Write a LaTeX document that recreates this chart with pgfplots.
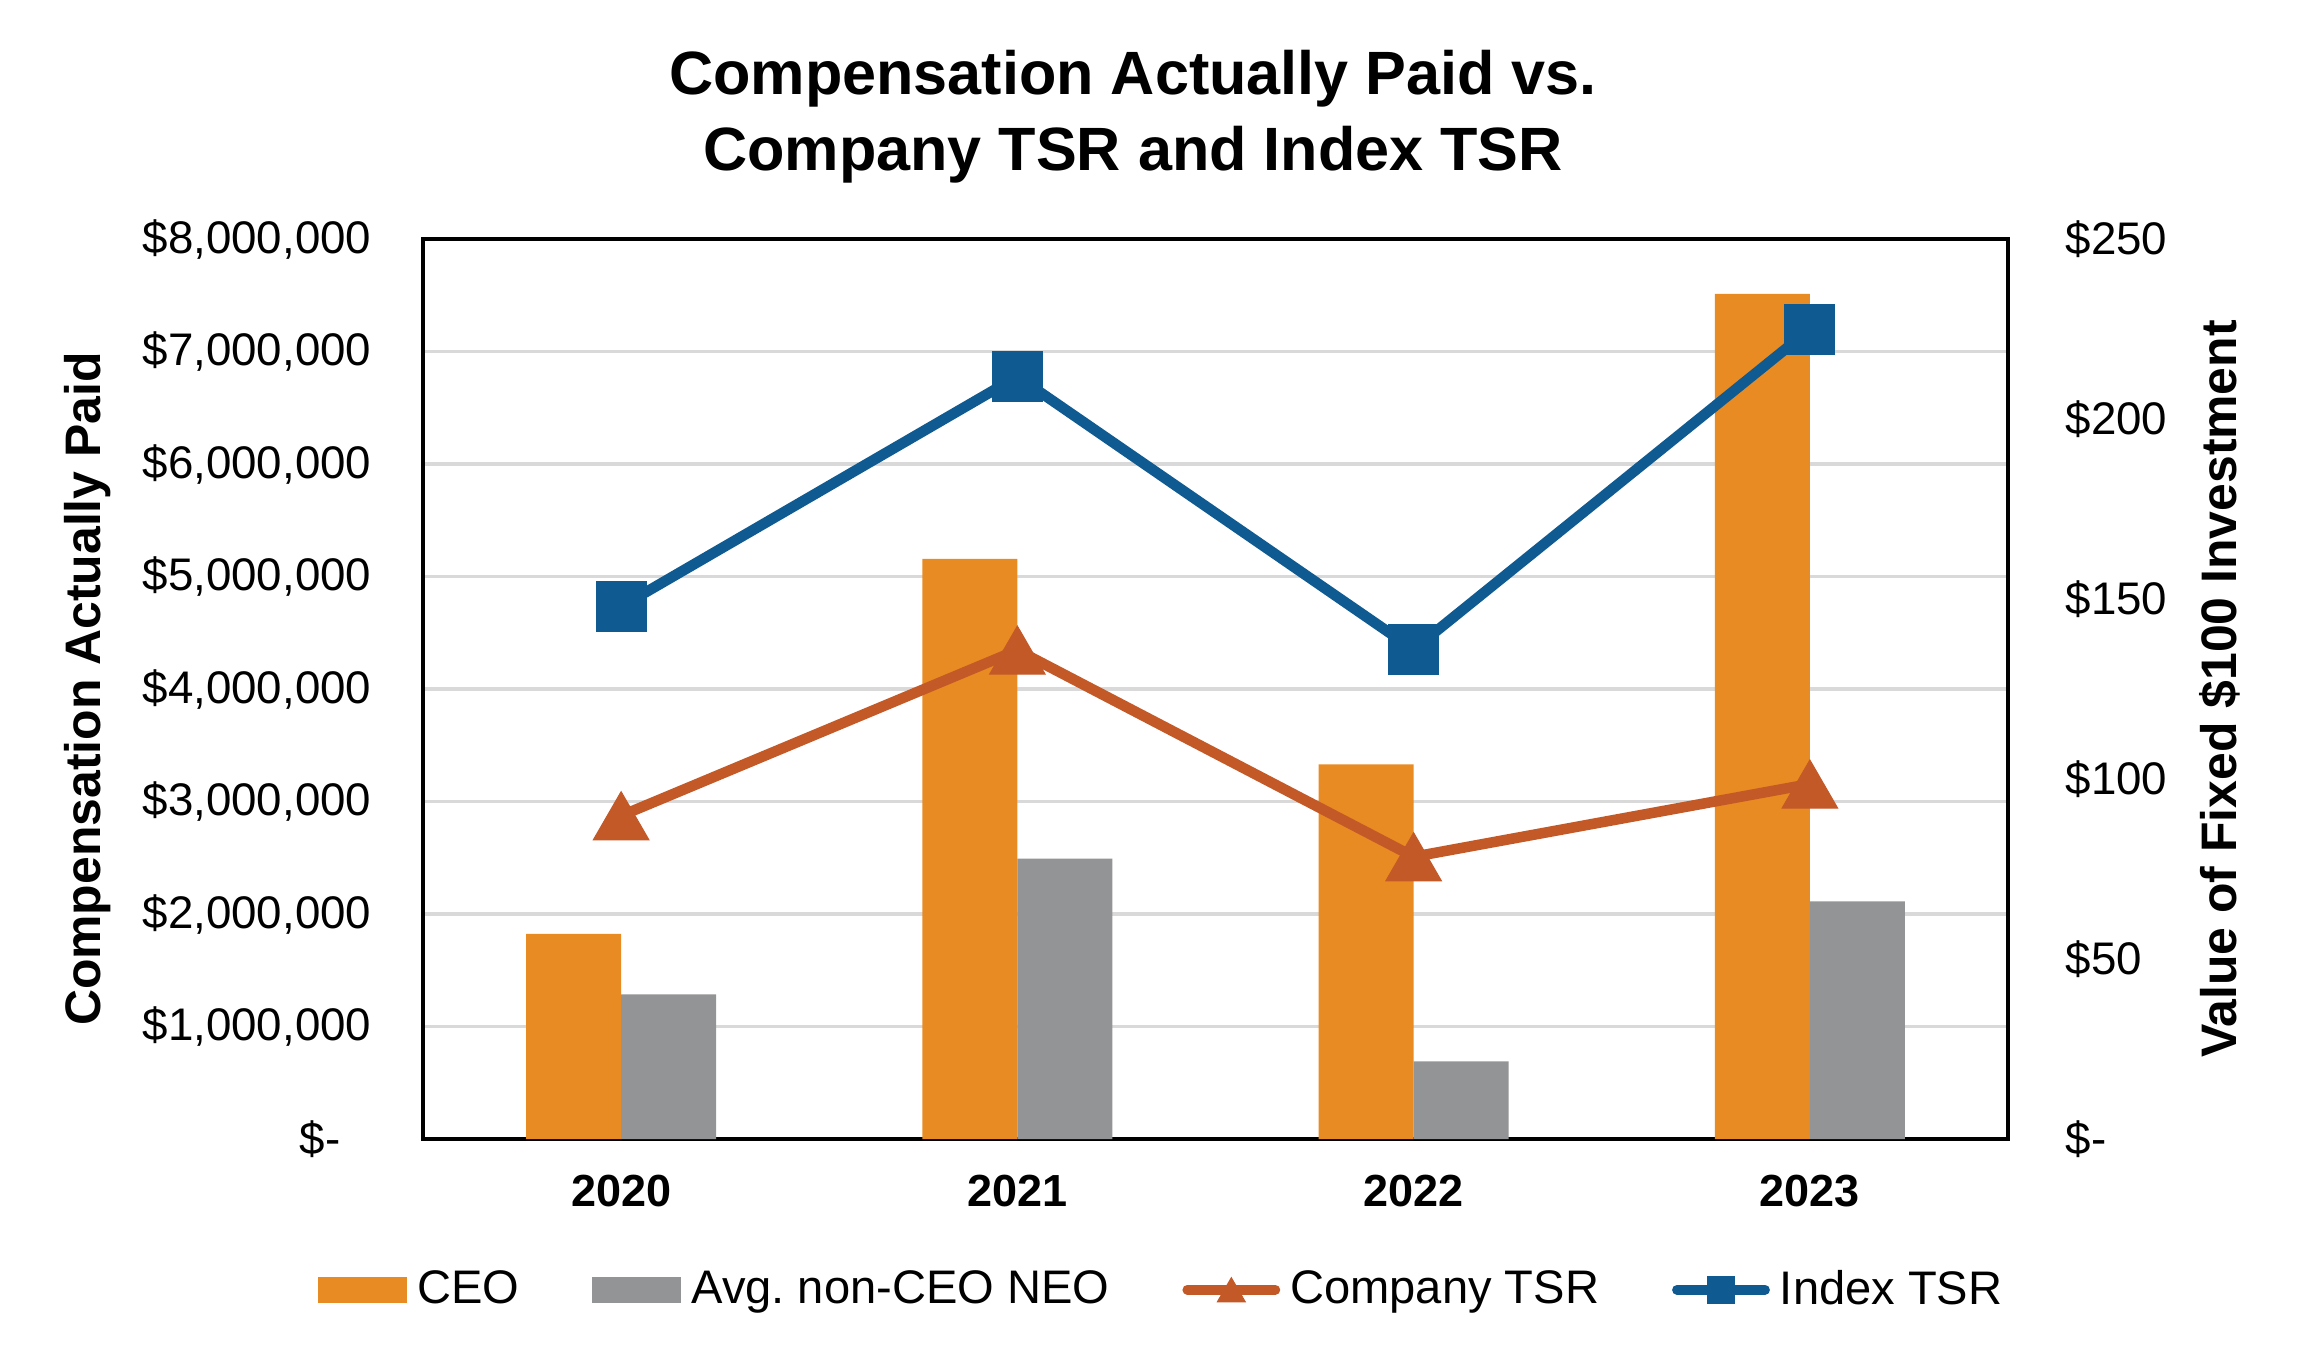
\documentclass[border=0pt]{standalone}
\usepackage{fontspec}
\setmainfont{Liberation Sans}
\usepackage{pgfplots}
\pgfplotsset{compat=1.18}

\definecolor{ceoc}{RGB}{232,139,35}
\definecolor{neoc}{RGB}{147,148,149}
\definecolor{compc}{RGB}{196,89,40}
\definecolor{idxc}{RGB}{16,90,146}
\definecolor{gridc}{RGB}{217,217,217}

\begin{document}
\frenchspacing
\begin{tikzpicture}
\useasboundingbox (-4.23cm,-2.17cm) rectangle (18.84cm,11.39cm);

% left axis: compensation bars
\begin{axis}[
    scale only axis,
    width=15.85cm, height=9cm,
    xmin=-0.5, xmax=3.5,
    ymin=0, ymax=8000000,
    xtick={0,1,2,3},
    xticklabels={2020,2021,2022,2023},
    ytick={0,1000000,2000000,3000000,4000000,5000000,6000000,7000000,8000000},
    yticklabels={{\$-\hspace*{0.31cm}},{\$1,000,000},{\$2,000,000},{\$3,000,000},{\$4,000,000},{\$5,000,000},{\$6,000,000},{\$7,000,000},{\$8,000,000}},
    scaled y ticks=false,
    tick pos=left,
    major tick length=0pt,
    ymajorgrids,
    grid style={gridc, line width=1pt},
    axis line style={black, line width=0.9pt},
    /pgf/number format/assume math mode=true,
    yticklabel style={anchor=east, inner sep=0pt, xshift=-0.51cm, font=\fontsize{13}{15}\selectfont},
    xticklabel style={anchor=center, inner sep=0pt, yshift=-0.52cm, font=\fontsize{12.8}{15}\selectfont\bfseries},
    ylabel={Compensation Actually Paid},
    ylabel style={at={(axis description cs:-0.2114,0.5)}, anchor=center, font=\fontsize{14.2}{17}\selectfont\bfseries},
    title={Compensation Actually Paid vs.\\Company TSR and Index TSR},
    title style={at={(0.448,1)}, anchor=south, inner sep=0pt, yshift=0.34cm, align=center, font=\fontsize{17.4}{21.7}\selectfont\bfseries},
]
\addplot[ybar, bar width=0.24, bar shift=-0.12, fill=ceoc, draw=none] coordinates {
    (0,1824000) (1,5156000) (2,3331000) (3,7513000)
};
\addplot[ybar, bar width=0.24, bar shift=0.12, fill=neoc, draw=none] coordinates {
    (0,1286000) (1,2493000) (2,691000) (3,2113000)
};
\end{axis}

% right axis: TSR lines
\begin{axis}[
    scale only axis,
    width=15.85cm, height=9cm,
    xmin=-0.5, xmax=3.5,
    ymin=0, ymax=250,
    axis x line=none,
    axis y line*=right,
    ytick={0,50,100,150,200,250},
    yticklabels={{\$-},{\$50},{\$100},{\$150},{\$200},{\$250}},
    major tick length=0pt,
    axis line style={black, line width=0.9pt},
    /pgf/number format/assume math mode=true,
    yticklabel style={anchor=west, inner sep=0pt, xshift=0.57cm, font=\fontsize{13}{15}\selectfont},
    ylabel={Value of Fixed \$100 Investment},
    ylabel style={at={(axis description cs:1.1338,0.5)}, anchor=center, font=\fontsize{14.2}{17}\selectfont\bfseries},
    legend columns=4,
    legend style={at={(0.465,-0.1675)}, anchor=center, draw=none, fill=none,
        font=\fontsize{13.4}{16}\selectfont,
        nodes={inner sep=0pt},
        /tikz/every odd column/.append style={column sep=0.1cm},
        /tikz/every even column/.append style={column sep=0.73cm}},
]
\addlegendimage{legend image code/.code={\fill[ceoc] (0cm,-0.125cm) rectangle (0.88cm,0.125cm);}}
\addlegendentry{CEO}
\addlegendimage{legend image code/.code={\fill[neoc] (0cm,-0.125cm) rectangle (0.88cm,0.125cm);}}
\addlegendentry{Avg.\ non-CEO NEO}

\addplot[compc, line width=3pt, mark=triangle*, mark size=0.32cm,
    mark options={solid, fill=compc, line width=0.3pt, yshift=-0.08cm},
    legend image code/.code={
        \draw[compc, line width=2.8pt, line cap=round] (0.05cm,0cm) -- (0.93cm,0cm);
        \path plot[only marks, mark=triangle*, mark size=0.16cm,
            mark options={fill=compc, draw=compc, line width=0.3pt}] coordinates {(0.49cm,-0.04cm)};
    }] coordinates {
    (0,89.8) (1,135.8) (2,78.4) (3,98.6)
};
\addlegendentry{Company TSR}

\addplot[idxc, line width=3pt, mark=square*, mark size=0.25cm,
    mark options={solid, fill=idxc, line width=0.3pt},
    legend image code/.code={
        \draw[idxc, line width=2.8pt, line cap=round] (0.05cm,0cm) -- (0.93cm,0cm);
        \path plot[only marks, mark=square*, mark size=0.135cm,
            mark options={fill=idxc, draw=idxc, line width=0.3pt}] coordinates {(0.49cm,0cm)};
    }] coordinates {
    (0,147.9) (1,211.8) (2,136.0) (3,224.9)
};
\addlegendentry{Index TSR}
\end{axis}
\end{tikzpicture}
\end{document}
